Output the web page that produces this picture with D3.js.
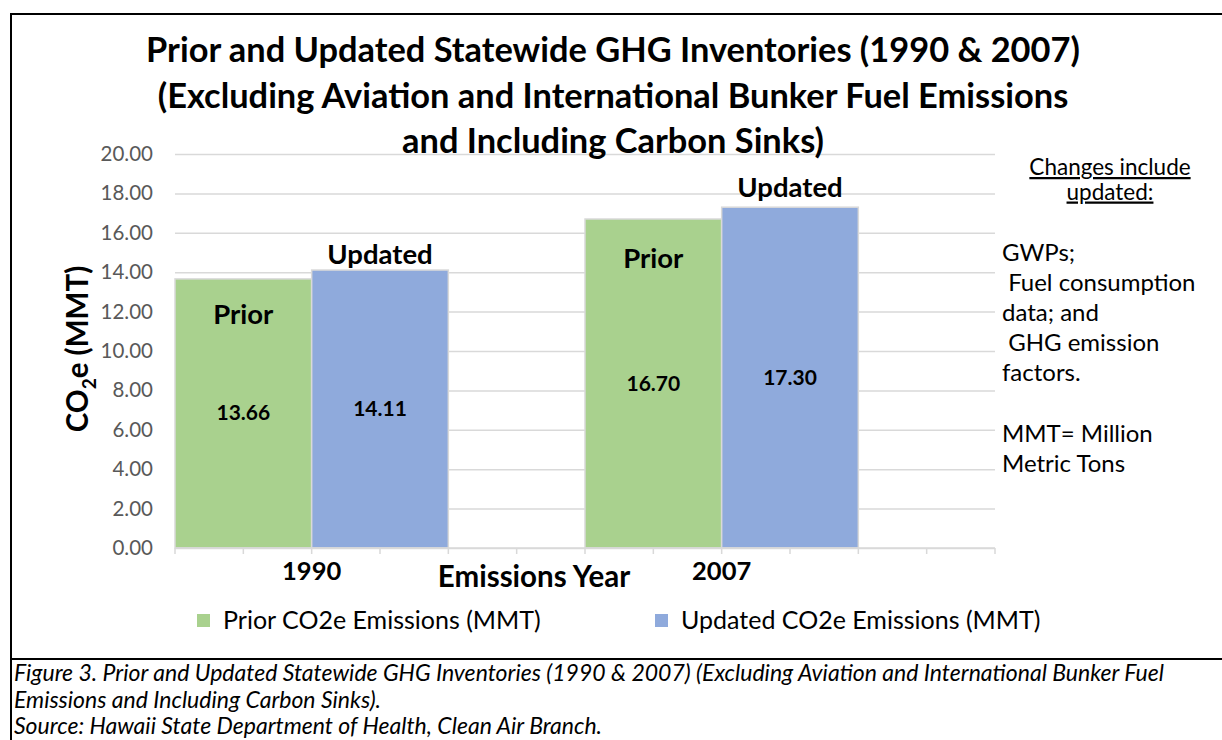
<!DOCTYPE html>
<html><head><meta charset="utf-8">
<script src="https://cdn.jsdelivr.net/npm/d3@7"></script>
<style>body{margin:0;background:#fff}svg{display:block}</style>
</head><body>
<svg id="c" width="1222" height="740"></svg>
<script>
const categories = ["1990", "2007"];
const priorValues = [13.66, 16.70];
const updatedValues = [14.11, 17.30];
const yTicks = [0, 2, 4, 6, 8, 10, 12, 14, 16, 18, 20];
const seriesNames = ["Prior CO2e Emissions (MMT)", "Updated CO2e Emissions (MMT)"];
const seriesShort = ["Prior", "Updated"];
const seriesColors = ["#a9d18e", "#8faadc"];
const titleLines = [
  "Prior and Updated Statewide GHG Inventories (1990 & 2007)",
  "(Excluding Aviation and International Bunker Fuel Emissions",
  "and Including Carbon Sinks)"
];
const headerLines = ["Changes include", "updated:"];
const noteLines = ["GWPs;", " Fuel consumption", "data; and", " GHG emission", "factors.", "", "MMT= Million", "Metric Tons"];
const captionLines = [
  "Figure 3. Prior and Updated Statewide GHG Inventories (1990 & 2007) (Excluding Aviation and International Bunker Fuel",
  "Emissions and Including Carbon Sinks).",
  "Source: Hawaii State Department of Health, Clean Air Branch."
];

const FONT = "Lato, 'Open Sans', sans-serif";
const svg = d3.select("#c");
svg.style("font-family", FONT);

const L = 175, R = 995, T = 154, B = 548;
const x = d3.scaleBand().domain(categories).range([L, R]).padding(0);
const sub = d3.scaleBand().domain([0, 1, 2]).range([0, x.bandwidth()]).padding(0);
const y = d3.scaleLinear().domain([0, 20]).range([B, T]);

// frame
svg.append("line").attr("x1", 10).attr("x2", 1222).attr("y1", 14).attr("y2", 14).attr("stroke", "#000").attr("stroke-width", 2.2);
svg.append("line").attr("x1", 11).attr("x2", 11).attr("y1", 13).attr("y2", 740).attr("stroke", "#000").attr("stroke-width", 2);
svg.append("line").attr("x1", 10).attr("x2", 1222).attr("y1", 659).attr("y2", 659).attr("stroke", "#000").attr("stroke-width", 2);

// gridlines + y labels
const yAxis = d3.axisLeft(y).tickValues(yTicks).tickFormat(d3.format(".2f")).tickSize(-(R - L)).tickPadding(22);
const gy = svg.append("g").attr("transform", `translate(${L},0)`).call(yAxis);
gy.select(".domain").remove();
gy.selectAll(".tick line").attr("stroke", "#d9d9d9").attr("stroke-width", 1.5);
gy.selectAll(".tick text").attr("fill", "#595959").style("font-size", "20.5px").style("font-family", FONT);

// bars
const series = [priorValues, updatedValues];
series.forEach((vals, si) => {
  svg.append("g").selectAll("rect").data(categories).join("rect")
    .attr("x", c => x(c) + sub(si))
    .attr("y", (c, i) => y(vals[i]))
    .attr("width", sub.bandwidth())
    .attr("height", (c, i) => B - y(vals[i]))
    .attr("fill", seriesColors[si])
    .attr("stroke", "#d9d9d9").attr("stroke-width", 1.5);
});

// x axis line and ticks
svg.append("line").attr("x1", L).attr("x2", R).attr("y1", B).attr("y2", B).attr("stroke", "#d9d9d9").attr("stroke-width", 1.5);
const tickPos = d3.range(0, 13).map(k => L + k * x.bandwidth() / 6);
svg.append("g").selectAll("line").data(tickPos).join("line")
  .attr("x1", d => d).attr("x2", d => d).attr("y1", B).attr("y2", B + 6)
  .attr("stroke", "#d9d9d9").attr("stroke-width", 1.5);

// category labels
svg.append("g").selectAll("text").data(categories).join("text")
  .attr("x", c => x(c) + sub(1)).attr("y", 580)
  .attr("text-anchor", "middle").style("font-size", "25.5px").style("font-weight", "bold").text(c => c);

// data labels
categories.forEach((c, i) => {
  const cx0 = x(c) + sub(0) + sub.bandwidth() / 2;
  const cx1 = x(c) + sub(1) + sub.bandwidth() / 2;
  svg.append("text").attr("x", cx0).attr("y", y(priorValues[i] / 2) + 7).attr("text-anchor", "middle")
    .style("font-size", "21px").style("font-weight", "bold").text(priorValues[i].toFixed(2));
  svg.append("text").attr("x", cx1).attr("y", y(updatedValues[i] / 2) + 7).attr("text-anchor", "middle")
    .style("font-size", "21px").style("font-weight", "bold").text(updatedValues[i].toFixed(2));
  svg.append("text").attr("x", cx0).attr("y", y(priorValues[i]) + 45 + i * 4).attr("text-anchor", "middle")
    .style("font-size", "27.5px").style("font-weight", "bold").text(seriesShort[0]);
  svg.append("text").attr("x", cx1).attr("y", y(updatedValues[i]) - 6 - i * 4).attr("text-anchor", "middle")
    .style("font-size", "27.5px").style("font-weight", "bold").text(seriesShort[1]);
});

// title
svg.append("g").selectAll("text").data(titleLines).join("text")
  .attr("x", 613).attr("y", (d, i) => 62 + i * 45.5).attr("text-anchor", "middle")
  .style("font-size", "34.4px").style("font-weight", "bold").text(d => d);

// axis titles
const yt = svg.append("text").attr("transform", "translate(88,349) rotate(-90)").attr("text-anchor", "middle")
  .style("font-size", "29.5px").style("font-weight", "bold");
yt.append("tspan").text("CO");
yt.append("tspan").text("2").style("font-size", "19px").attr("dy", 8);
yt.append("tspan").text("e (MMT)").attr("dy", -8);
svg.append("text").attr("x", 534).attr("y", 587).attr("text-anchor", "middle")
  .style("font-size", "29.5px").style("font-weight", "bold").text("Emissions Year");

// legend
const legX = [197, 655];
seriesNames.forEach((n, i) => {
  svg.append("rect").attr("x", legX[i]).attr("y", 614).attr("width", 13).attr("height", 13).attr("fill", seriesColors[i]);
  svg.append("text").attr("x", legX[i] + 26).attr("y", 629).style("font-size", "25px").text(n);
});

// notes
svg.append("g").selectAll("text").data(headerLines).join("text")
  .attr("x", 1110).attr("y", (d, i) => 175 + i * 24.5).attr("text-anchor", "middle")
  .style("font-size", "22.5px").attr("text-decoration", "underline").text(d => d);
svg.append("g").selectAll("text").data(noteLines).join("text")
  .attr("x", 1002).attr("y", (d, i) => 261 + i * 30.1)
  .style("font-size", "24px").attr("xml:space", "preserve").style("white-space", "pre").text(d => d);

// caption
svg.append("g").selectAll("text").data(captionLines).join("text")
  .attr("x", 14).attr("y", (d, i) => 681 + i * 26.5)
  .style("font-size", "23px").style("font-style", "italic").text(d => d);
</script>
</body></html>
